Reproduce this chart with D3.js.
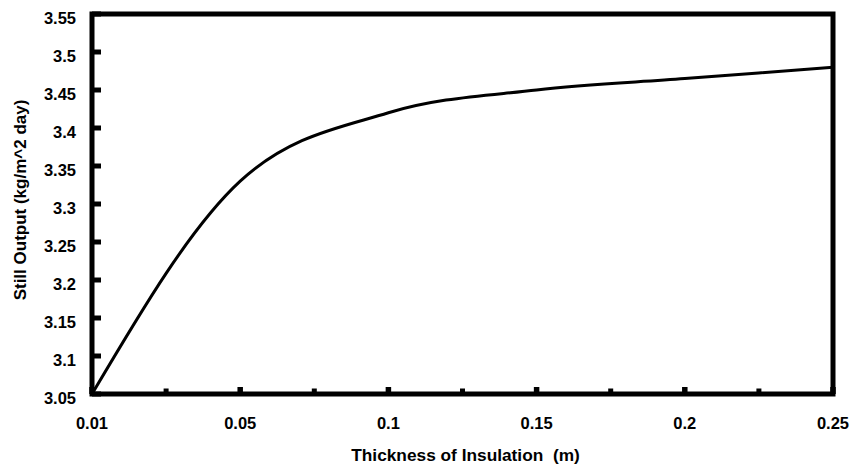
<!DOCTYPE html>
<html>
<head>
<meta charset="utf-8">
<script src="https://cdn.jsdelivr.net/npm/d3@7"></script>
<style>
	body { margin: 0; background: #fff; }
	text { font-family: "Liberation Sans", Arial, sans-serif; font-weight: bold; fill: #000; }
</style>
</head>
<body>
<svg id="chart" width="850" height="468"></svg>
<script>
// Data
var thickness = ["0.01", "0.05", "0.1", "0.15", "0.2", "0.25"];
var stillOutput = [3.05, 3.33, 3.42, 3.45, 3.465, 3.48];
var yTicks = [3.05, 3.1, 3.15, 3.2, 3.25, 3.3, 3.35, 3.4, 3.45, 3.5, 3.55];
var yTickLabels = ["3.05", "3.1", "3.15", "3.2", "3.25", "3.3", "3.35", "3.4", "3.45", "3.5", "3.55"];

var svg = d3.select("#chart");

// Sizing (plot frame edges)
var plotLeft = 92;
var plotRight = 833;
var plotTop = 14;
var plotBottom = 394;

var xscale = d3.scalePoint().domain(thickness).range([plotLeft, plotRight]);
var yscale = d3.scaleLinear().domain([3.05, 3.55]).range([plotBottom, plotTop]);

// minor ticks halfway between categories
var step = xscale.step();
var minorTicks = thickness.slice(1).map((d) => xscale(d) - step / 2);

// the curve
var line = d3
	.line()
	.x((d, i) => xscale(thickness[i]))
	.y((d) => yscale(d))
	.curve(d3.curveMonotoneX);

svg
	.append("path")
	.datum(stillOutput)
	.attr("d", line)
	.attr("fill", "none")
	.attr("stroke", "#000")
	.attr("stroke-width", 3);

// frame
svg
	.append("rect")
	.attr("x", plotLeft)
	.attr("y", plotTop)
	.attr("width", plotRight - plotLeft)
	.attr("height", plotBottom - plotTop)
	.attr("fill", "none")
	.attr("stroke", "#000")
	.attr("stroke-width", 5);

// y axis ticks + labels
var yaxis = svg.append("g");
yaxis
	.selectAll("line")
	.data(yTicks)
	.join("line")
	.attr("x1", plotLeft)
	.attr("x2", plotLeft + 9)
	.attr("y1", (d) => yscale(d))
	.attr("y2", (d) => yscale(d))
	.attr("stroke", "#000")
	.attr("stroke-width", 5);

yaxis
	.selectAll("text")
	.data(yTicks)
	.join("text")
	.attr("x", 76)
	.attr("y", (d) => yscale(d) + 10)
	.attr("text-anchor", "end")
	.style("font-size", "16.5px")
	.text((d, i) => yTickLabels[i]);

// x axis ticks + labels
var xaxis = svg.append("g");
xaxis
	.selectAll("line.major")
	.data(thickness)
	.join("line")
	.attr("class", "major")
	.attr("x1", (d) => xscale(d))
	.attr("x2", (d) => xscale(d))
	.attr("y1", plotBottom)
	.attr("y2", plotBottom - 7)
	.attr("stroke", "#000")
	.attr("stroke-width", 5.5);

xaxis
	.selectAll("line.minor")
	.data(minorTicks)
	.join("line")
	.attr("class", "minor")
	.attr("x1", (d) => d)
	.attr("x2", (d) => d)
	.attr("y1", plotBottom)
	.attr("y2", plotBottom - 5.5)
	.attr("stroke", "#000")
	.attr("stroke-width", 5);

xaxis
	.selectAll("text")
	.data(thickness)
	.join("text")
	.attr("x", (d) => xscale(d))
	.attr("y", 429)
	.attr("text-anchor", "middle")
	.style("font-size", "16.5px")
	.text((d) => d);

// axis titles
svg
	.append("text")
	.attr("x", (plotLeft + plotRight) / 2 + 3)
	.attr("y", 461)
	.attr("text-anchor", "middle")
	.style("font-size", "17.3px")
	.attr("xml:space", "preserve")
	.text("Thickness of Insulation  (m)");

svg
	.append("text")
	.attr("transform", "translate(26, 200) rotate(-90)")
	.attr("text-anchor", "middle")
	.style("font-size", "17px")
	.text("Still Output (kg/m^2 day)");
</script>
</body>
</html>
